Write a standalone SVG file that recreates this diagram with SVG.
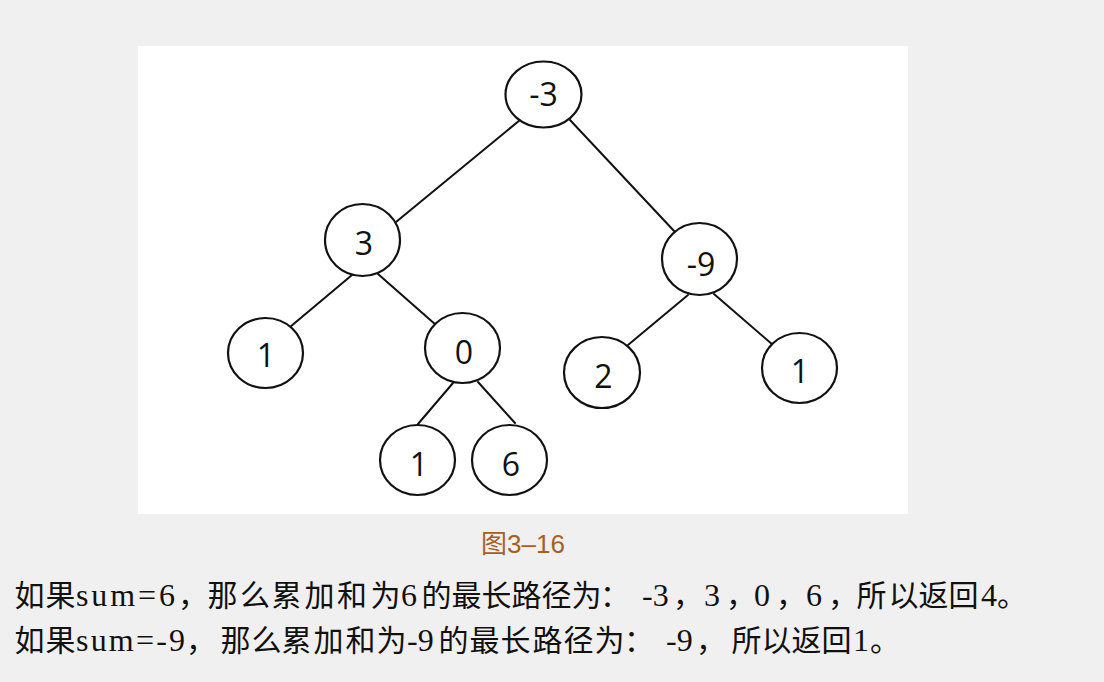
<svg xmlns="http://www.w3.org/2000/svg" width="1104" height="682" viewBox="0 0 1104 682">
<style>
.edge{stroke:#111;stroke-width:2;fill:none;stroke-linecap:round}
.node ellipse{fill:#fff;stroke:#111;stroke-width:2.2}
.lbl{font-family:"Open Sans","Liberation Sans",Arial,sans-serif;font-size:32px;fill:#111;text-anchor:middle}
.cap{font-family:"Liberation Sans","Noto Sans CJK SC",sans-serif;font-size:26px;fill:#a5611f}
.body{font-size:30px;fill:#111}
.zh{font-family:"Noto Sans CJK SC",sans-serif;font-size:30px}
.lat{font-family:"Liberation Serif","Noto Sans CJK SC",serif;font-size:32px}
</style>
<rect x="0" y="0" width="1104" height="682" fill="#f0f0f0"/>
<rect x="138" y="46" width="770" height="468" fill="#ffffff"/>
<g id="connectors">
<line class="edge" x1="520" y1="120" x2="396" y2="222"/>
<line class="edge" x1="570" y1="120" x2="675" y2="232"/>
<line class="edge" x1="352" y1="275" x2="290" y2="327"/>
<line class="edge" x1="378" y1="274" x2="436" y2="325"/>
<line class="edge" x1="453" y1="383" x2="418" y2="424"/>
<line class="edge" x1="478" y1="382" x2="515" y2="423"/>
<line class="edge" x1="688" y1="295" x2="628" y2="345"/>
<line class="edge" x1="714" y1="294" x2="773" y2="345"/>
</g>
<g id="n_root" class="node"><ellipse cx="543.5" cy="94.5" rx="38" ry="33"/><text class="lbl" x="543.5" y="106">-3</text></g>
<g id="n_3" class="node"><ellipse cx="362.5" cy="240" rx="37.5" ry="36"/><text class="lbl" x="364" y="255">3</text></g>
<g id="n_m9" class="node"><ellipse cx="699.5" cy="259" rx="37.5" ry="36"/><text class="lbl" x="701" y="276">-9</text></g>
<g id="n_1a" class="node"><ellipse cx="265.5" cy="353" rx="37.5" ry="35"/><text class="lbl" x="266" y="367">1</text></g>
<g id="n_0" class="node"><ellipse cx="462.5" cy="348" rx="37.5" ry="35"/><text class="lbl" x="464" y="364">0</text></g>
<g id="n_2" class="node"><ellipse cx="602" cy="372.5" rx="38" ry="35.5"/><text class="lbl" x="603.5" y="388">2</text></g>
<g id="n_1b" class="node"><ellipse cx="799.5" cy="368" rx="37.5" ry="35"/><text class="lbl" x="800" y="383">1</text></g>
<g id="n_1c" class="node"><ellipse cx="417.5" cy="460" rx="37.5" ry="35"/><text class="lbl" x="419" y="476">1</text></g>
<g id="n_6" class="node"><ellipse cx="509.5" cy="460" rx="37.5" ry="35"/><text class="lbl" x="511" y="476">6</text></g>
<text class="cap" x="481" y="553">图3–16</text>
<text class="body" y="606"><tspan class="zh" x="14.5 45.5">如果</tspan><tspan class="lat" x="76" textLength="99" lengthAdjust="spacing">sum=6</tspan><tspan class="zh" x="178 207.5 240 271.5 304.5 337 370.5">，那么累加和为</tspan><tspan class="lat" x="401">6</tspan><tspan class="zh" x="421.5 451.5 481.5 511.5 541.5 571.5 600">的最长路径为：</tspan><tspan class="lat" x="642">-3</tspan><tspan class="zh" x="673">，</tspan><tspan class="lat" x="704">3</tspan><tspan class="zh" x="726">，</tspan><tspan class="lat" x="754">0</tspan><tspan class="zh" x="776">，</tspan><tspan class="lat" x="806">6</tspan><tspan class="zh" x="828 856.5 888.5 918.5 948.5">，所以返回</tspan><tspan class="lat" x="981">4</tspan><tspan class="zh" x="997">。</tspan></text>
<text class="body" y="651"><tspan class="zh" x="14.5 45.5">如果</tspan><tspan class="lat" x="76" textLength="109" lengthAdjust="spacing">sum=-9</tspan><tspan class="zh" x="186 220.5 251.5 281.5 313.5 345.5 376.5">，那么累加和为</tspan><tspan class="lat" x="407">-9</tspan><tspan class="zh" x="438.5 469.5 500.5 532.5 563.5 594.5 624">的最长路径为：</tspan><tspan class="lat" x="666">-9</tspan><tspan class="zh" x="696 731.5 761.5 791.5 821.5">，所以返回</tspan><tspan class="lat" x="853">1</tspan><tspan class="zh" x="870">。</tspan></text>
</svg>
